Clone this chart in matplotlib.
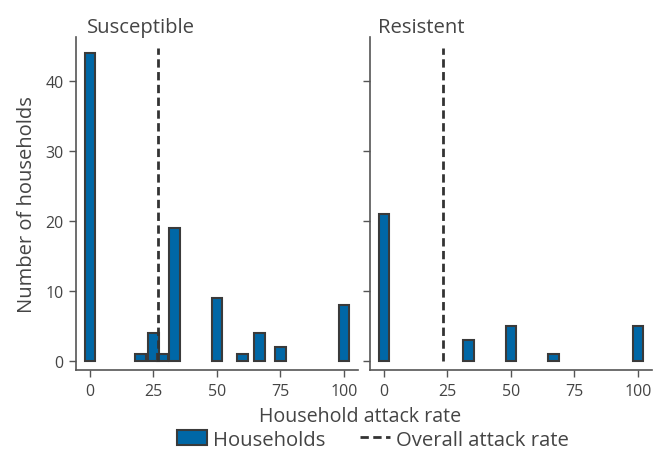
import matplotlib.pyplot as plt
from matplotlib.patches import Patch
from matplotlib.lines import Line2D

plt.rcParams['font.family'] = ['Open Sans', 'DejaVu Sans']

# attack rate (%) and number of households per panel
susc_rate = [0, 20, 25, 28.6, 33.3, 50, 60, 66.7, 75, 100]
susc_count = [44, 1, 4, 1, 19, 9, 1, 4, 2, 8]
resi_rate = [0, 33.3, 50, 66.7, 100]
resi_count = [21, 3, 5, 1, 5]
overall_rate = [26.9, 23.4]
titles = ['Susceptible', 'Resistent']

text_col = '#444444'
spine_col = '#555555'
bar_col = '#0067a6'
edge_col = '#3a3a3a'

fig = plt.figure(figsize=(6.53, 4.56), dpi=100)
ax1 = fig.add_axes([0.1164, 0.1864, 0.4318, 0.7303])
ax2 = fig.add_axes([0.5666, 0.1864, 0.4318, 0.7303], sharey=ax1)

panels = [(ax1, susc_rate, susc_count), (ax2, resi_rate, resi_count)]
for i, (ax, rate, count) in enumerate(panels):
    ax.bar(rate, count, width=4.2, color=bar_col, edgecolor=edge_col, linewidth=1.5, zorder=2)
    ax.vlines(overall_rate[i], 0, 44.7, colors='#333333', linestyles=(0, (3, 1.6)), linewidth=2, zorder=3)
    ax.set_xlim(-5.5, 105.5)
    ax.set_ylim(-1.3, 46.3)
    ax.set_xticks([0, 25, 50, 75, 100])
    ax.set_yticks([0, 10, 20, 30, 40])
    for s in ['top', 'right']:
        ax.spines[s].set_visible(False)
    for s in ['left', 'bottom']:
        ax.spines[s].set_color(spine_col)
        ax.spines[s].set_linewidth(1.2)
    ax.tick_params(direction='out', length=5, width=1, color=spine_col,
                   labelcolor=text_col, labelsize=11.5, pad=4)
    ax.text(0.04 if i == 0 else 0.03, 1.0, titles[i], transform=ax.transAxes,
            ha='left', va='bottom', fontsize=14.6, color=text_col)

ax2.tick_params(axis='y', labelleft=False)
ax1.set_ylabel('Number of households', fontsize=14.5, color=text_col, labelpad=6)
fig.text(0.552, 0.0855, 'Household attack rate', ha='center', va='center',
         fontsize=14.1, color=text_col)

handles = [Patch(facecolor=bar_col, edgecolor=edge_col, linewidth=1.5),
           Line2D([0], [0], color='#333333', linestyle=(0, (3, 1.6)), linewidth=2)]
leg = fig.legend(handles, ['Households', 'Overall attack rate'], loc='lower center',
                 bbox_to_anchor=(0.571, -0.028), ncol=2, frameon=False, fontsize=14.6,
                 handlelength=1.5, handletextpad=0.3, columnspacing=1.7)
for t in leg.get_texts():
    t.set_color(text_col)

plt.savefig('out.png', dpi=100)
